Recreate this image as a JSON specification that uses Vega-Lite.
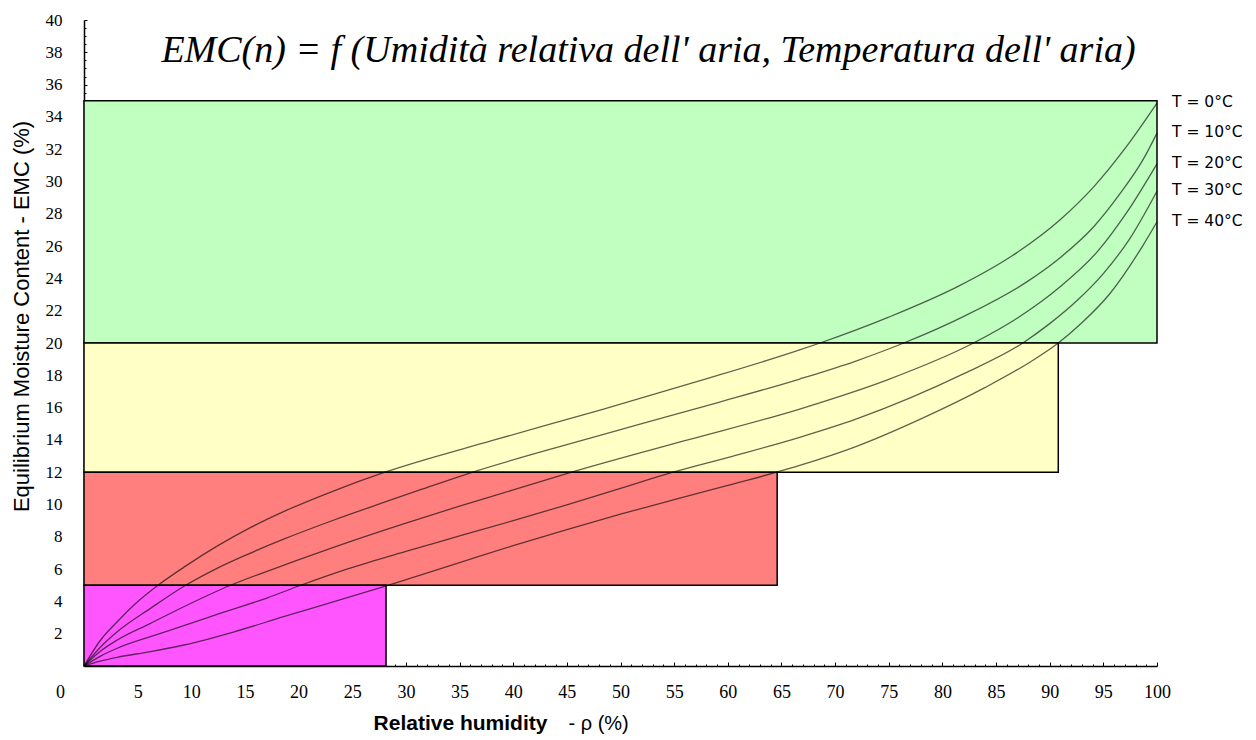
{
  "$schema": "https://vega.github.io/schema/vega-lite/v6.json",
  "width": 1073,
  "height": 646,
  "autosize": {"type": "none"},
  "padding": {"left": 84, "top": 20, "right": 99, "bottom": 74},
  "background": "white",
  "config": {"view": {"stroke": null}},
  "title": {
    "text": "EMC(n) = f (Umidità relativa dell' aria, Temperatura dell' aria)",
    "frame": "group",
    "anchor": "middle",
    "orient": "top",
    "offset": -45,
    "baseline": "alphabetic",
    "dx": 28,
    "dy": 44,
    "font": "Liberation Serif",
    "fontStyle": "italic",
    "fontWeight": "normal",
    "fontSize": 38,
    "color": "black"
  },
  "datasets": {
    "zones": [
      {"zone": "A", "rh_start": 0, "rh_end": 100, "emc_low": 20, "emc_high": 35},
      {"zone": "B", "rh_start": 0, "rh_end": 90.8, "emc_low": 12, "emc_high": 20},
      {"zone": "C", "rh_start": 0, "rh_end": 64.6, "emc_low": 5, "emc_high": 12},
      {"zone": "D", "rh_start": 0, "rh_end": 28.15, "emc_low": 0, "emc_high": 5}
    ],
    "curves": [
      {"T": "T = 0°C", "rh": 0, "emc": 0},
      {"T": "T = 0°C", "rh": 1.55, "emc": 1.61},
      {"T": "T = 0°C", "rh": 3.1, "emc": 2.74},
      {"T": "T = 0°C", "rh": 4.66, "emc": 3.78},
      {"T": "T = 0°C", "rh": 6.9, "emc": 5.0},
      {"T": "T = 0°C", "rh": 9.5, "emc": 6.2},
      {"T": "T = 0°C", "rh": 12.4, "emc": 7.42},
      {"T": "T = 0°C", "rh": 15.5, "emc": 8.57},
      {"T": "T = 0°C", "rh": 18.6, "emc": 9.56},
      {"T": "T = 0°C", "rh": 23.3, "emc": 10.85},
      {"T": "T = 0°C", "rh": 28.05, "emc": 12.0},
      {"T": "T = 0°C", "rh": 38, "emc": 13.95},
      {"T": "T = 0°C", "rh": 48.1, "emc": 15.85},
      {"T": "T = 0°C", "rh": 57.5, "emc": 17.68},
      {"T": "T = 0°C", "rh": 66.7, "emc": 19.57},
      {"T": "T = 0°C", "rh": 68.6, "emc": 20.0},
      {"T": "T = 0°C", "rh": 75, "emc": 21.6},
      {"T": "T = 0°C", "rh": 81.6, "emc": 23.55},
      {"T": "T = 0°C", "rh": 86.5, "emc": 25.4},
      {"T": "T = 0°C", "rh": 91, "emc": 27.65},
      {"T": "T = 0°C", "rh": 94.1, "emc": 29.67},
      {"T": "T = 0°C", "rh": 97.2, "emc": 32.2},
      {"T": "T = 0°C", "rh": 100, "emc": 34.85},

      {"T": "T = 10°C", "rh": 0, "emc": 0},
      {"T": "T = 10°C", "rh": 1.5, "emc": 1.15},
      {"T": "T = 10°C", "rh": 3.1, "emc": 2.12},
      {"T": "T = 10°C", "rh": 6.2, "emc": 3.57},
      {"T": "T = 10°C", "rh": 9.47, "emc": 5.0},
      {"T": "T = 10°C", "rh": 12.4, "emc": 6.05},
      {"T": "T = 10°C", "rh": 15.2, "emc": 6.9},
      {"T": "T = 10°C", "rh": 18.6, "emc": 7.85},
      {"T": "T = 10°C", "rh": 23.3, "emc": 9.04},
      {"T": "T = 10°C", "rh": 27.6, "emc": 10.05},
      {"T": "T = 10°C", "rh": 31.3, "emc": 10.9},
      {"T": "T = 10°C", "rh": 36.1, "emc": 11.98},
      {"T": "T = 10°C", "rh": 44, "emc": 13.52},
      {"T": "T = 10°C", "rh": 51.4, "emc": 14.9},
      {"T": "T = 10°C", "rh": 59, "emc": 16.3},
      {"T": "T = 10°C", "rh": 66.7, "emc": 17.77},
      {"T": "T = 10°C", "rh": 72, "emc": 18.9},
      {"T": "T = 10°C", "rh": 76.4, "emc": 20.0},
      {"T": "T = 10°C", "rh": 82, "emc": 21.65},
      {"T": "T = 10°C", "rh": 87.9, "emc": 23.8},
      {"T": "T = 10°C", "rh": 91, "emc": 25.3},
      {"T": "T = 10°C", "rh": 94.1, "emc": 27.2},
      {"T": "T = 10°C", "rh": 96.5, "emc": 29.2},
      {"T": "T = 10°C", "rh": 98.7, "emc": 31.35},
      {"T": "T = 10°C", "rh": 100, "emc": 33.0},

      {"T": "T = 20°C", "rh": 0, "emc": 0},
      {"T": "T = 20°C", "rh": 1.5, "emc": 0.9},
      {"T": "T = 20°C", "rh": 3.1, "emc": 1.61},
      {"T": "T = 20°C", "rh": 6.2, "emc": 2.64},
      {"T": "T = 20°C", "rh": 9.3, "emc": 3.67},
      {"T": "T = 20°C", "rh": 13.66, "emc": 5.0},
      {"T": "T = 20°C", "rh": 17, "emc": 5.85},
      {"T": "T = 20°C", "rh": 20.1, "emc": 6.6},
      {"T": "T = 20°C", "rh": 25, "emc": 7.75},
      {"T": "T = 20°C", "rh": 30, "emc": 8.85},
      {"T": "T = 20°C", "rh": 35, "emc": 9.9},
      {"T": "T = 20°C", "rh": 40, "emc": 10.9},
      {"T": "T = 20°C", "rh": 45.45, "emc": 12.0},
      {"T": "T = 20°C", "rh": 56, "emc": 13.95},
      {"T": "T = 20°C", "rh": 66.7, "emc": 15.91},
      {"T": "T = 20°C", "rh": 75, "emc": 17.75},
      {"T": "T = 20°C", "rh": 82.9, "emc": 20.0},
      {"T": "T = 20°C", "rh": 87, "emc": 21.55},
      {"T": "T = 20°C", "rh": 91, "emc": 23.5},
      {"T": "T = 20°C", "rh": 94.5, "emc": 25.7},
      {"T": "T = 20°C", "rh": 97.2, "emc": 28.1},
      {"T": "T = 20°C", "rh": 100, "emc": 31.1},

      {"T": "T = 30°C", "rh": 0, "emc": 0},
      {"T": "T = 30°C", "rh": 1.5, "emc": 0.6},
      {"T": "T = 30°C", "rh": 3.1, "emc": 1.1},
      {"T": "T = 30°C", "rh": 6.2, "emc": 1.82},
      {"T": "T = 30°C", "rh": 9.3, "emc": 2.5},
      {"T": "T = 30°C", "rh": 12.4, "emc": 3.2},
      {"T": "T = 30°C", "rh": 17.1, "emc": 4.22},
      {"T": "T = 30°C", "rh": 20.2, "emc": 5.0},
      {"T": "T = 30°C", "rh": 24.5, "emc": 6.0},
      {"T": "T = 30°C", "rh": 30, "emc": 7.1},
      {"T": "T = 30°C", "rh": 35, "emc": 8.05},
      {"T": "T = 30°C", "rh": 40, "emc": 9.0},
      {"T": "T = 30°C", "rh": 45, "emc": 9.98},
      {"T": "T = 30°C", "rh": 50, "emc": 11.0},
      {"T": "T = 30°C", "rh": 54.9, "emc": 12.0},
      {"T": "T = 30°C", "rh": 60.5, "emc": 13.0},
      {"T": "T = 30°C", "rh": 66.7, "emc": 14.16},
      {"T": "T = 30°C", "rh": 72, "emc": 15.3},
      {"T": "T = 30°C", "rh": 77, "emc": 16.6},
      {"T": "T = 30°C", "rh": 82, "emc": 18.1},
      {"T": "T = 30°C", "rh": 87.5, "emc": 20.0},
      {"T": "T = 30°C", "rh": 90, "emc": 21.2},
      {"T": "T = 30°C", "rh": 92.5, "emc": 22.6},
      {"T": "T = 30°C", "rh": 95, "emc": 24.3},
      {"T": "T = 30°C", "rh": 97.5, "emc": 26.5},
      {"T": "T = 30°C", "rh": 100, "emc": 29.4},

      {"T": "T = 40°C", "rh": 0, "emc": 0},
      {"T": "T = 40°C", "rh": 1.5, "emc": 0.3},
      {"T": "T = 40°C", "rh": 3.1, "emc": 0.54},
      {"T": "T = 40°C", "rh": 6.2, "emc": 0.89},
      {"T": "T = 40°C", "rh": 9.3, "emc": 1.3},
      {"T": "T = 40°C", "rh": 14, "emc": 2.12},
      {"T": "T = 40°C", "rh": 18.6, "emc": 3.05},
      {"T": "T = 40°C", "rh": 23.3, "emc": 3.98},
      {"T": "T = 40°C", "rh": 28.1, "emc": 4.95},
      {"T": "T = 40°C", "rh": 35, "emc": 6.4},
      {"T": "T = 40°C", "rh": 40, "emc": 7.45},
      {"T": "T = 40°C", "rh": 45, "emc": 8.45},
      {"T": "T = 40°C", "rh": 50, "emc": 9.4},
      {"T": "T = 40°C", "rh": 55, "emc": 10.3},
      {"T": "T = 40°C", "rh": 60, "emc": 11.18},
      {"T": "T = 40°C", "rh": 64.55, "emc": 12.0},
      {"T": "T = 40°C", "rh": 66.7, "emc": 12.42},
      {"T": "T = 40°C", "rh": 72, "emc": 13.6},
      {"T": "T = 40°C", "rh": 78, "emc": 15.3},
      {"T": "T = 40°C", "rh": 84, "emc": 17.25},
      {"T": "T = 40°C", "rh": 88, "emc": 18.75},
      {"T": "T = 40°C", "rh": 90.8, "emc": 20.0},
      {"T": "T = 40°C", "rh": 93, "emc": 21.25},
      {"T": "T = 40°C", "rh": 95.6, "emc": 23.05},
      {"T": "T = 40°C", "rh": 98.7, "emc": 26.05},
      {"T": "T = 40°C", "rh": 100, "emc": 27.5}
    ]
  },
  "layer": [
    {
      "data": {"name": "zones"},
      "mark": {"type": "rect", "stroke": "black", "strokeWidth": 1.5},
      "encoding": {
        "x": {
          "field": "rh_start", "type": "quantitative",
          "scale": {"domain": [0, 100], "nice": false, "zero": false},
          "axis": {
            "orient": "bottom",
            "values": [0, 5, 10, 15, 20, 25, 30, 35, 40, 45, 50, 55, 60, 65, 70, 75, 80, 85, 90, 95, 100],
            "title": "Relative humidity",
            "titleFont": "Liberation Sans", "titleFontWeight": "bold", "titleFontSize": 21, "titleColor": "black",
            "titleX": 376, "titleY": 63, "titleAlign": "center", "titleBaseline": "alphabetic", "titleAngle": 0,
            "labelFont": "Liberation Serif", "labelFontSize": 18, "labelColor": "black",
            "labelPadding": 21,
            "labelOffset": {"condition": {"test": "datum.value === 0", "value": -24}, "value": 0},
            "labelFlush": false, "labelOverlap": false,
            "tickSize": -4, "tickColor": "black", "tickWidth": 1,
            "domainColor": "black", "domainWidth": 1.5, "grid": false
          }
        },
        "x2": {"field": "rh_end"},
        "y": {
          "field": "emc_low", "type": "quantitative",
          "scale": {"domain": [0, 40], "nice": false, "zero": false},
          "axis": {
            "orient": "left",
            "values": [2, 4, 6, 8, 10, 12, 14, 16, 18, 20, 22, 24, 26, 28, 30, 32, 34, 36, 38, 40],
            "title": "Equilibrium Moisture Content - EMC (%)",
            "titleFont": "Liberation Sans", "titleFontWeight": "normal", "titleFontSize": 22, "titleColor": "black",
            "titleX": -51, "titleY": 296, "titleAlign": "center", "titleBaseline": "bottom", "titleAngle": 270,
            "labelFont": "Liberation Serif", "labelFontSize": 17, "labelColor": "black",
            "labelPadding": 25, "labelFlush": false, "labelOverlap": false,
            "tickSize": -3, "tickColor": "black", "tickWidth": 1,
            "domainColor": "black", "domainWidth": 1.5, "grid": false
          }
        },
        "y2": {"field": "emc_high"},
        "fill": {
          "field": "zone", "type": "nominal",
          "scale": {"domain": ["A", "B", "C", "D"], "range": ["#C1FFC1", "#FFFFC6", "#FF7F7F", "#FF55FF"]},
          "legend": null
        }
      }
    },
    {
      "data": {"name": "curves"},
      "mark": {"type": "line", "color": "black", "opacity": 0.62, "strokeWidth": 1.3, "interpolate": "monotone"},
      "encoding": {
        "x": {
          "field": "rh", "type": "quantitative",
          "axis": {
            "orient": "bottom",
            "values": [0,1,2,3,4,6,7,8,9,11,12,13,14,16,17,18,19,21,22,23,24,26,27,28,29,31,32,33,34,36,37,38,39,41,42,43,44,46,47,48,49,51,52,53,54,56,57,58,59,61,62,63,64,66,67,68,69,71,72,73,74,76,77,78,79,81,82,83,84,86,87,88,89,91,92,93,94,96,97,98,99],
            "labels": false, "domain": false,
            "tickSize": -2, "tickColor": "black", "tickWidth": 1, "grid": false,
            "title": "- ρ (%)",
            "titleFont": "Liberation Sans", "titleFontWeight": "normal", "titleFontSize": 20, "titleColor": "black",
            "titleX": 484, "titleY": 63, "titleAlign": "left", "titleBaseline": "alphabetic", "titleAngle": 0
          }
        },
        "y": {
          "field": "emc", "type": "quantitative",
          "axis": {
            "orient": "left",
            "values": [0.5,1,1.5,2.5,3,3.5,4.5,5,5.5,6.5,7,7.5,8.5,9,9.5,10.5,11,11.5,12.5,13,13.5,14.5,15,15.5,16.5,17,17.5,18.5,19,19.5,20.5,21,21.5,22.5,23,23.5,24.5,25,25.5,26.5,27,27.5,28.5,29,29.5,30.5,31,31.5,32.5,33,33.5,34.5,35,35.5,36.5,37,37.5,38.5,39,39.5],
            "labels": false, "domain": false,
            "tickSize": -2, "tickColor": "black", "tickWidth": 1, "grid": false,
            "title": null
          }
        },
        "detail": {"field": "T", "type": "nominal"}
      }
    },
    {
      "data": {"name": "curves"},
      "transform": [{"filter": "datum.rh === 100"}],
      "mark": {"type": "text", "align": "left", "baseline": "middle", "dx": 15, "dy": -1, "font": "DejaVu Sans", "fontSize": 15.5, "color": "black"},
      "encoding": {
        "x": {"field": "rh", "type": "quantitative", "axis": null},
        "y": {"field": "emc", "type": "quantitative", "axis": null},
        "text": {"field": "T", "type": "nominal"}
      }
    }
  ],
  "resolve": {"axis": {"x": "independent", "y": "independent"}}
}
